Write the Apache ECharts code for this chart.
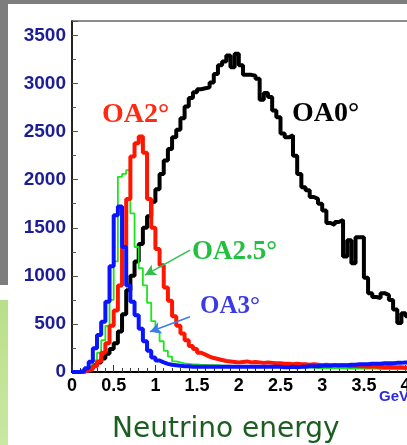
<!DOCTYPE html>
<html>
<head>
<meta charset="utf-8">
<script src="https://cdn.jsdelivr.net/npm/echarts@6/dist/echarts.min.js"></script>
<style>
html,body{margin:0;padding:0;background:#fff;}
#chart{width:407px;height:445px;}
</style>
</head>
<body>
<div id="chart"></div>
<script>
// Bin left edges (GeV)
const binStart = [0.00,0.05,0.10,0.15,0.20,0.25,0.30,0.35,0.40,0.45,
0.50,0.55,0.60,0.65,0.70,0.75,0.80,0.85,0.90,0.95,
1.00,1.05,1.10,1.15,1.20,1.25,1.30,1.35,1.40,1.45,
1.50,1.55,1.60,1.65,1.70,1.75,1.80,1.85,1.90,1.95,
2.00,2.05,2.10,2.15,2.20,2.25,2.30,2.35,2.40,2.45,
2.50,2.55,2.60,2.65,2.70,2.75,2.80,2.85,2.90,2.95,
3.00,3.05,3.10,3.15,3.20,3.25,3.30,3.35,3.40,3.45,
3.50,3.55,3.60,3.65,3.70,3.75,3.80,3.85,3.90,3.95,
4.00,4.05,4.10,4.15,4.20,4.25,4.30,4.35,4.40];

// OA0 deg (black)
const oa0 = [0,0,5,20,40,70,100,140,190,240,
300,420,600,850,1000,1150,1330,1500,1620,1770,
1900,2060,2200,2320,2440,2520,2640,2760,2850,2910,
2940,2950,2960,3010,3100,3190,3230,3290,3170,3310,
3190,3090,3090,3080,3050,2830,2900,2860,2720,2650,
2480,2440,2460,2250,2060,1920,1890,1820,1800,1750,
1680,1550,1530,1560,1580,1200,1370,1130,1400,1400,
980,820,780,770,820,800,750,650,510,610,
580,560,540,500,480,450,420,400,380];

// OA2 deg (red)
const oa2 = [0,0,5,15,30,60,110,200,300,480,
640,900,1300,1800,2240,2380,2450,2280,1800,1500,
1280,1110,880,740,580,480,400,330,270,240,
200,180,160,145,135,125,115,110,105,100,
105,110,100,105,100,95,100,95,90,90,
85,85,80,85,80,80,75,80,75,70,
75,70,70,65,70,65,60,65,60,60,
55,60,55,55,50,55,50,50,50,45,
45,45,45,40,40,40,40,40,35];

// OA2.5 deg (green)
const oa25 = [0,0,5,25,60,120,200,330,480,750,
1150,2030,2060,2100,1650,1300,1080,900,720,530,
420,320,220,160,110,100,90,85,80,80,
75,75,70,70,70,65,65,65,60,60,
60,60,55,55,55,55,50,50,50,50,
50,50,45,45,45,45,45,45,40,40,
40,40,40,40,40,35,35,35,35,35,
35,35,35,30,30,30,30,30,30,30,
30,30,30,25,25,25,25,25,25];

// OA3 deg (blue)
const oa3 = [0,0,10,40,107,246,385,523,731,1100,
1630,1720,1300,900,730,590,450,320,220,150,
120,100,85,75,70,65,60,60,55,55,
55,55,55,55,55,55,55,55,55,55,
55,55,55,55,55,55,55,55,55,55,
50,50,55,50,55,55,60,60,60,65,
65,65,70,70,70,70,75,75,80,80,
80,85,85,85,90,90,90,95,95,100,
100,100,100,105,105,105,110,110,110];

const seriesNames = ['OA0°','OA2.5°','OA2°','OA3°'];
const xTickValues = [0,0.5,1,1.5,2,2.5,3,3.5,4];
const yTickValues = [0,500,1000,1500,2000,2500,3000,3500];

function pairs(vals){ return binStart.map((e,i)=>[e, vals[i]]); }

const chart = echarts.init(document.getElementById('chart'), null, {renderer:'canvas'});

const option = {
  animation:false,
  backgroundColor:'#ffffff',
  grid:{left:72, top:21, height:351, width:375.3, outerBoundsMode:'none', containLabel:false,
    show:true, borderColor:'#666', borderWidth:1.5, backgroundColor:'transparent'},
  xAxis:{
    type:'value', min:0, max:4.5, interval:0.5,
    axisLine:{show:true, onZero:false, lineStyle:{color:'#000', width:2}},
    axisTick:{show:true, inside:true, length:7, lineStyle:{color:'#333', width:1}},
    minorTick:{show:true, splitNumber:5, length:4, lineStyle:{color:'#333', width:1}},
    splitLine:{show:false},
    axisLabel:{margin:5, color:'#000', fontFamily:'Liberation Sans', fontWeight:'bold', fontSize:18,
      formatter:function(v){return xTickValues.indexOf(v)>=0 ? String(v) : '';}}
  },
  yAxis:{
    type:'value', min:0, max:3650, interval:500,
    axisLine:{show:true, lineStyle:{color:'#000', width:1.5}},
    axisTick:{show:true, inside:true, length:6, lineStyle:{color:'#555', width:1}},
    minorTick:{show:true, splitNumber:2, length:4, lineStyle:{color:'#555', width:1}},
    splitLine:{show:false},
    axisLabel:{margin:6, showMaxLabel:false, color:'#1c1c96', fontFamily:'Liberation Sans', fontWeight:'bold', fontSize:19,
      formatter:function(v){return yTickValues.indexOf(v)>=0 ? String(v) : '';}}
  },
  series:[
    {name:seriesNames[0], type:'line', step:'end', symbol:'none', data:pairs(oa0),
      lineStyle:{color:'#000000', width:4}, z:2},
    {name:seriesNames[1], type:'line', step:'end', symbol:'none', data:pairs(oa25),
      lineStyle:{color:'#1ee61e', width:1.8}, z:3,
      markLine:{silent:true, symbol:['none','arrow'], symbolSize:[9,11],
        label:{show:false}, lineStyle:{color:'#2fbf4a', width:1.5, type:'solid'},
        data:[[{coord:[1.415,1268]},{coord:[0.875,1008]}]]}},
    {name:seriesNames[2], type:'line', step:'end', symbol:'none', data:pairs(oa2),
      lineStyle:{color:'#ff1500', width:4}, z:4},
    {name:seriesNames[3], type:'line', step:'end', symbol:'none', data:pairs(oa3),
      lineStyle:{color:'#0a14ff', width:4}, z:5,
      markLine:{silent:true, symbol:['none','arrow'], symbolSize:[9,11],
        label:{show:false}, lineStyle:{color:'#3a7de8', width:1.5, type:'solid'},
        data:[[{coord:[1.415,575]},{coord:[0.935,419]}]]}}
  ],
  graphic:[
    {type:'rect', shape:{x:0,y:0,width:407,height:4}, style:{fill:'#7d7d7d'}, z:-1},
    {type:'rect', shape:{x:0,y:0,width:8,height:285}, style:{fill:'#7d7d7d'}, z:-1},
    {type:'rect', shape:{x:0,y:300,width:8,height:145}, style:{fill:new echarts.graphic.LinearGradient(0,0,0,1,[{offset:0,color:'#b9df8a'},{offset:1,color:'#c9e8a3'}])}, z:-1},
    {type:'text', left:292, top:100, style:{text:'OA0°', fill:'#000', font:'bold 28px "Liberation Serif"'}, z:10},
    {type:'text', left:102, top:101, style:{text:'OA2°', fill:'#ff2a10', font:'bold 28px "Liberation Serif"'}, z:10},
    {type:'text', left:192, top:239, style:{text:'OA2.5°', fill:'#22c040', font:'bold 27px "Liberation Serif"'}, z:10},
    {type:'text', left:200, top:294, style:{text:'OA3°', fill:'#3a3ae6', font:'bold 25px "Liberation Serif"'}, z:10},
    {type:'text', left:379, top:389, style:{text:'GeV', fill:'#2a2ae0', font:'bold 15px "Liberation Sans"'}, z:10},
    {type:'text', left:112, top:416, style:{text:'Neutrino energy', fill:'#1b5e20', font:'28px "DejaVu Sans"'}, z:10}
  ]
};
chart.setOption(option);
</script>
</body>
</html>
